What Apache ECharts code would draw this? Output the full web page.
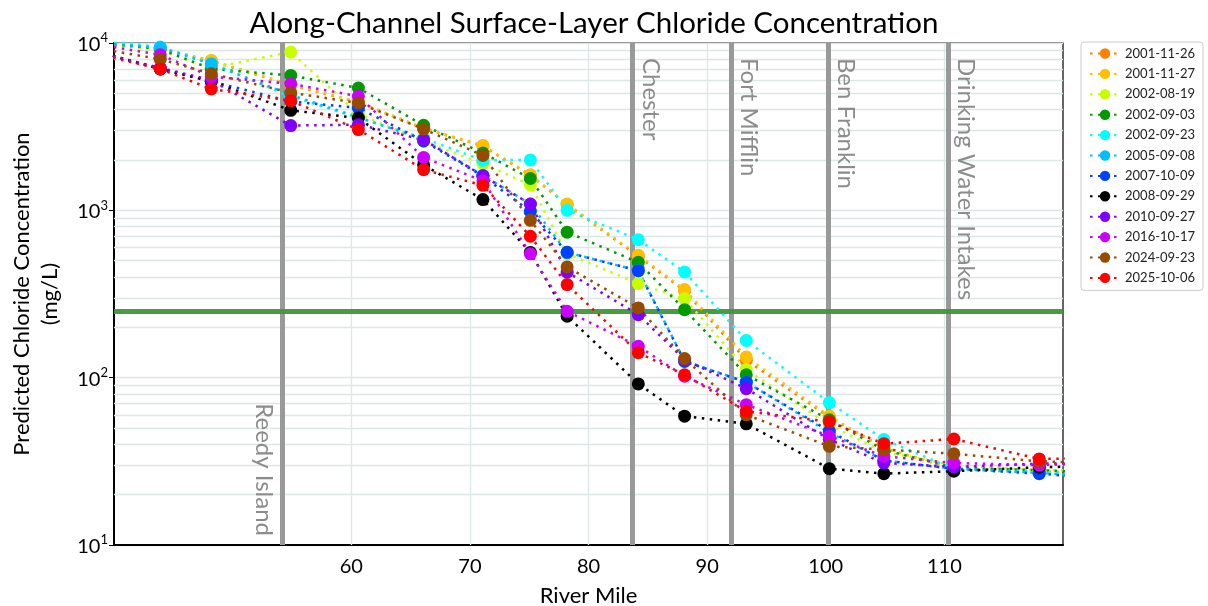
<!DOCTYPE html>
<html><head><meta charset="utf-8">
<script src="https://cdn.jsdelivr.net/npm/echarts@6/dist/echarts.min.js"></script>
<style>html,body{margin:0;padding:0;background:#fff}#c{width:1208px;height:606px}</style>
</head><body><div id="c"></div>
<script>
// River-mile stations (first/last lie just outside the plotted range)
const miles = [36, 43.9, 48.2, 54.9, 60.6, 66.1, 71.1, 75.1, 78.2, 84.2, 88.1, 93.3, 100.3, 104.9, 110.8, 118.0, 123];

const names = ['2001-11-26','2001-11-27','2002-08-19','2002-09-03','2002-09-23','2005-09-08','2007-10-09','2008-09-29','2010-09-27','2016-10-17','2024-09-23','2025-10-06'];
const colors = ['#FF8000','#FFC000','#C8FF00','#009900','#00FFFF','#00BFFF','#0040FF','#000000','#7F00FF','#CC00FF','#964B00','#FF0000'];

const s20011126 = [10900, 9250, 7800, 5600, 4420, 3080, 2420, 1620, 1080, 530, 330, 127, 58, 38, 28.5, 28, 26];
const s20011127 = [11000, 9300, 7870, 5630, 4450, 3100, 2440, 1630, 1090, 539, 336, 133, 59, 38, 28.5, 28, 26];
const s20020819 = [10500, 9000, 7100, 8830, 3760, 2580, 1900, 1420, 550, 365, 296, 112, 52, 36, 30, 28, 28];
const s20020903 = [10500, 9200, 7000, 6400, 5380, 3220, 2200, 1550, 740, 489, 255, 104, 56, 37, 29, 28, 27];
const s20020923 = [11000, 9460, 7520, 4800, 3570, 2700, 1990, 2000, 1000, 668, 428, 167, 71, 42.7, 28.5, 27.5, 25.5];
const s20050908 = [10200, 9400, 7500, 4900, 3600, 2650, 1620, 1090, 560, 436, 126, 94, 47, 32, 28.5, 27, 25.5];
const s20071009 = [10000, 7000, 5900, 4470, 4090, 2600, 1600, 986, 561, 436, 125, 94, 48, 32, 28.5, 26.7, 25];
const s20080929 = [10000, 7000, 5900, 3960, 3560, 1870, 1160, 560, 233, 91.8, 58.9, 53, 28.6, 26.7, 27.6, 29.2, 29.5];
const s20100927 = [9800, 7100, 6000, 3210, 3250, 2640, 1610, 1090, 427, 238, 128, 86, 42.7, 30.9, 29.3, 30.6, 31];
const s20161017 = [10500, 8510, 6300, 5710, 4800, 2070, 1500, 550, 249, 154, 102, 69, 44.7, 33.9, 30.9, 30, 31];
const s20240923 = [10000, 8000, 6560, 5050, 4380, 3060, 2130, 872, 459, 261, 130, 60, 38.9, 37.2, 35.1, 31.6, 31];
const s20251006 = [9500, 6990, 5310, 4520, 3040, 1750, 1410, 700, 360, 141, 104, 63, 54.5, 40.3, 43, 32.7, 33];

const seriesValues = [s20011126, s20011127, s20020819, s20020903, s20020923, s20050908, s20071009, s20080929, s20100927, s20161017, s20240923, s20251006];

// Reference lines
const landmarks = ['Reedy Island', 'Chester', 'Fort Mifflin', 'Ben Franklin', 'Drinking Water Intakes'];
const landmarkMiles = [54.2, 83.7, 92.0, 100.2, 110.3];
const standardMgL = 250;

// Axis ticks / grid values
const xTicks = [60, 70, 80, 90, 100, 110];
const yMinorGrid = [20,30,40,50,60,70,80,90,200,300,400,500,600,700,800,900,2000,3000,4000,5000,6000,7000,8000,9000];

const FONT = 'Lato, "Open Sans", sans-serif';

const series = names.map((n, i) => ({
  name: n,
  type: 'line',
  data: miles.map((m, j) => [m, seriesValues[i][j]]),
  symbol: 'circle',
  symbolSize: 13,
  itemStyle: { color: colors[i] },
  lineStyle: { color: colors[i], width: 2.5, type: [2.5, 5.5] },
  z: 5,
  clip: true,
  animation: false
}));

// grid lines
series.push({
  type: 'line', data: [], silent: true, z: 0, animation: false,
  markLine: {
    silent: true, symbol: 'none', animation: false, label: { show: false },
    lineStyle: { color: '#dde7e7', width: 1.3, type: 'solid' },
    data: yMinorGrid.map(v => ({ yAxis: v })).concat(xTicks.map(v => ({ xAxis: v })))
  }
});

// landmark lines + 250 mg/L line
const lmData = landmarks.map((n, i) => {
  const isFirst = i === 0;
  return [
    { name: n, coord: [landmarkMiles[i], 10000] },
    { coord: [landmarkMiles[i], 10],
      label: {
        show: true,
        formatter: n,
        position: isFirst ? 'insideEndBottom' : 'insideStartTop',
        distance: isFirst ? [9, 7] : [15, 6],
        color: '#8c8c8c', fontSize: 24, fontFamily: FONT
      } }
  ];
});
series.push({
  type: 'line', data: [], silent: true, z: 2, animation: false,
  markLine: {
    silent: true, symbol: 'none', animation: false,
    lineStyle: { color: '#999999', width: 5, type: 'solid' },
    label: { show: true, color: '#8c8c8c', fontSize: 24, fontFamily: FONT },
    data: lmData.concat([{ yAxis: standardMgL, label: { show: false }, lineStyle: { color: '#3f963a', width: 5, opacity: 0.95 } }])
  }
});

const chart = echarts.init(document.getElementById('c'), null, { renderer: 'canvas' });
chart.setOption({
  animation: false,
  backgroundColor: '#fff',
  title: {
    text: 'Along-Channel Surface-Layer Chloride Concentration',
    left: 589, top: 3, textAlign: 'center',
    textStyle: { fontFamily: FONT, fontSize: 29.5, fontWeight: 'normal', color: '#000' }
  },
  legend: {
    data: names,
    orient: 'vertical',
    right: 5, top: 42,
    itemWidth: 30, itemHeight: 13, itemGap: 7.4,
    padding: [5, 8, 6, 8],
    borderColor: '#cccccc', borderWidth: 1, borderRadius: 3,
    textStyle: { fontFamily: FONT, fontSize: 13, color: '#222' }
  },
  grid: { left: 114, right: 145, top: 43, bottom: 61, show: true, borderColor: '#000', borderWidth: 1.2, containLabel: false, outerBoundsMode: 'none' },
  xAxis: {
    type: 'value', min: 40, max: 120, interval: 10,
    name: 'River Mile', nameLocation: 'middle', nameGap: 40,
    nameTextStyle: { fontFamily: FONT, fontSize: 22, color: '#000' },
    axisLine: { show: true, lineStyle: { color: '#000', width: 2 } },
    axisTick: { show: false },
    splitLine: { show: false },
    axisLabel: {
      fontFamily: FONT, fontSize: 20, color: '#000', margin: 12,
      formatter: v => (xTicks.indexOf(v) >= 0 ? String(v) : '')
    }
  },
  yAxis: {
    type: 'log', logBase: 10, min: 10, max: 10000,
    name: 'Predicted Chloride Concentration\n(mg/L)', nameLocation: 'middle', nameGap: 50,
    nameTextStyle: { fontFamily: FONT, fontSize: 22, color: '#000', lineHeight: 28 },
    axisLine: { show: true, lineStyle: { color: '#000', width: 2 } },
    axisTick: { show: true, length: 5, lineStyle: { color: '#000' } },
    splitLine: { show: true, lineStyle: { color: '#dde7e7', width: 1.3 } },
    axisLabel: {
      fontFamily: FONT, color: '#000', margin: 6,
      formatter: v => '{b|10}{s|' + Math.round(Math.log10(v)) + '}',
      rich: {
        b: { fontSize: 20, fontFamily: FONT, color: '#000', verticalAlign: 'bottom' },
        s: { fontSize: 13, fontFamily: FONT, color: '#000', verticalAlign: 'top', padding: [0, 0, 10, 0] }
      }
    }
  },
  series: series
});
</script></body></html>
